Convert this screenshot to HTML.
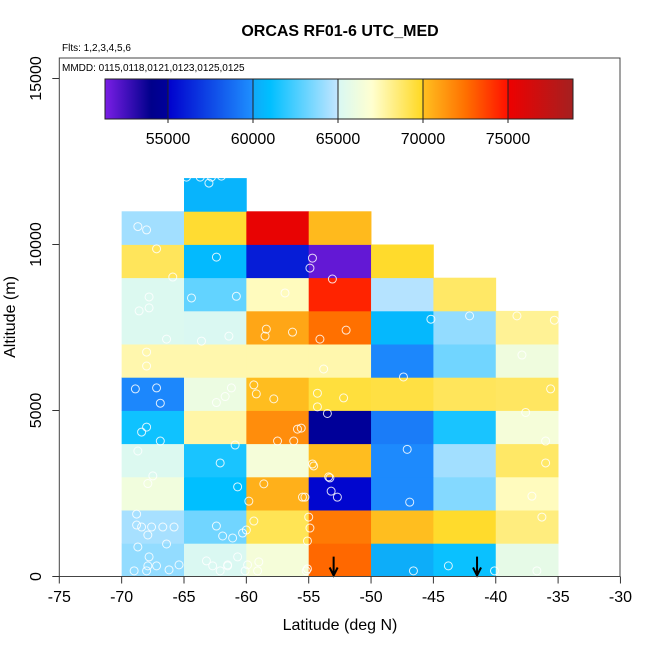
<!DOCTYPE html>
<html><head><meta charset="utf-8"><style>
body{margin:0;background:#fff;}
svg{display:block;font-family:"Liberation Sans",Arial,sans-serif;}
</style></head><body>
<svg id="chart" width="650" height="650" viewBox="0 0 650 650">
<text x="340" y="36" text-anchor="middle" font-size="16" font-weight="bold">ORCAS RF01-6 UTC_MED</text>
<text x="62" y="51" font-size="10">Flts: 1,2,3,4,5,6</text>
<g id="cells"></g>
<g id="pts"></g>
<g id="arrows"></g>
<rect x="59.3" y="58" width="560.7" height="518.5" fill="none" stroke="#444" stroke-width="1"/>
<text x="62" y="71" font-size="10">MMDD: 0115,0118,0121,0123,0125,0125</text>
<defs><linearGradient id="cbg" x1="0" x2="1" y1="0" y2="0"></linearGradient></defs>
<rect x="105" y="79" width="468" height="40" fill="url(#cbg)" stroke="#222" stroke-width="1"/>
<g id="cbticks"></g>
<g id="xaxis"></g>
<g id="yaxis"></g>
<text x="340" y="630" text-anchor="middle" font-size="16">Latitude (deg N)</text>
<text transform="translate(15,317) rotate(-90)" text-anchor="middle" font-size="16">Altitude (m)</text>
</svg>
<script>
const latBins=[-70,-65,-60,-55,-50,-45,-40];
const altBins=[0,1000,2000,3000,4000,5000,6000,7000,8000,9000,10000,11000];
// values[row altBin][col latBin], null = no data
const values=[
[64000,65100,66500,72700,60200,61200,65700],
[64400,63300,69100,72200,70050,69800,68400],
[66300,61000,70500,55200,59800,63700,67300],
[65200,61500,66500,70100,59800,64300,68800],
[61300,67700,71600,54900,59300,61500,66500],
[59700,66000,70100,69500,69400,69000,68900],
[67600,67600,67600,67600,59700,63300,66200],
[65200,65100,70800,72500,60700,64000,68000],
[65200,63000,67300,74500,64700,68800,null],
[69000,60800,56000,51800,69800,null,null],
[64300,69700,75300,70200,null,null,null],
[null,60500,null,null,null,null,null]
];
const cbTicks=[55000,60000,65000,70000,75000];
const xTicks=[-75,-70,-65,-60,-55,-50,-45,-40,-35,-30];
const yTicks=[0,5000,10000,15000];
const ptLat=[-64.8,-63.7,-62.8,-62.0,-63.0,-68.7,-68.0,-67.2,-62.4,-54.7,-54.9,-53.1,-65.9,-67.8,-64.4,-67.8,-68.6,-60.8,-56.9,-66.4,-63.6,-61.4,-58.4,-58.5,-56.3,-54.1,-52.0,-45.2,-42.1,-38.3,-68.0,-68.0,-53.8,-47.4,-68.9,-67.2,-66.9,-62.4,-61.7,-61.2,-59.4,-59.2,-57.8,-54.3,-54.3,-52.2,-53.5,-35.6,-37.6,-68.0,-68.4,-66.9,-55.9,-55.6,-57.5,-56.2,-60.9,-47.1,-68.7,-62.1,-54.7,-54.6,-67.5,-67.9,-60.7,-58.6,-53.4,-53.3,-53.2,-59.8,-55.5,-55.3,-52.7,-46.9,-36.0,-36.0,-36.3,-37.1,-37.9,-35.3,-46.6,-43.8,-40.1,-36.7,-68.8,-68.8,-68.4,-67.6,-66.7,-65.8,-67.9,-62.4,-61.9,-61.1,-60.3,-60.0,-59.4,-55.0,-54.9,-55.1,-68.7,-66.4,-67.8,-67.9,-67.2,-69.0,-68.0,-66.2,-65.4,-63.2,-62.7,-62.1,-61.5,-61.5,-60.7,-59.9,-60.1,-59.0,-59.1,-55.2,-55.1];
const ptAlt=[12030,12030,12030,12060,11850,10540,10440,9870,9620,9590,9290,8960,9020,8420,8390,8090,8000,8440,8540,7150,7090,7240,7450,7240,7360,7150,7420,7750,7850,7850,6760,6340,6250,6010,5650,5680,5220,5240,5420,5680,5770,5500,5350,5520,5110,5380,4910,5650,4940,4500,4350,4080,4440,4470,4080,4080,3960,3830,3780,3420,3390,3330,3030,2800,2700,2790,3000,2970,2570,2270,2390,2390,2390,2240,4080,3420,1790,2420,6670,7720,170,320,170,170,1880,1550,1490,1490,1490,1490,1250,1520,1220,1160,1310,1400,1670,1790,1460,1070,890,980,590,320,320,170,170,200,350,470,320,170,350,320,590,350,170,440,170,170,230];
const arrowLat=[-53.0,-41.5];

const X0=59.3,PX=12.47,Y0=576.5,PY=0.03320;
const xs=v=>X0+(v+75)*PX, ys=v=>Y0-v*PY;
const CB0=51294,CB1=78824,cbx=v=>105+(v-CB0)/(CB1-CB0)*468;
const stops=[[51294,'#7a1ee6'],[54000,'#00008b'],[55000,'#00009b'],[55000,'#0000cd'],[60000,'#1e90ff'],[60000,'#10a8f8'],[61000,'#00bfff'],[65000,'#c4e6ff'],[65000,'#d8f8f4'],[67000,'#ffffd0'],[70000,'#ffd820'],[70000,'#ffc020'],[72500,'#ff7000'],[75000,'#ff1000'],[75000,'#ee0000'],[78824,'#a52020']];
const h2r=h=>[1,3,5].map(i=>parseInt(h.substr(i,2),16));
function col(v){
  for(let i=0;i<stops.length-1;i++){
    const [a,ca]=stops[i],[b,cb]=stops[i+1];
    if(v>=a&&v<=b&&b>a){const t=(v-a)/(b-a),A=h2r(ca),B=h2r(cb);
      return 'rgb('+A.map((x,k)=>Math.round(x+(B[k]-x)*t)).join(',')+')';}
  }
  return v<CB0?stops[0][1]:stops[stops.length-1][1];
}
const NS='http://www.w3.org/2000/svg';
function mk(tag,at,parent){const e=document.createElementNS(NS,tag);for(const k in at)e.setAttribute(k,at[k]);parent.appendChild(e);return e;}
const g=document.getElementById('cbg');
stops.forEach(s=>{mk('stop',{offset:((s[0]-CB0)/(CB1-CB0)).toFixed(4),'stop-color':s[1]},g);});
const cells=document.getElementById('cells');
values.forEach((row,r)=>row.forEach((v,c)=>{
  if(v===null)return;
  const x1=xs(latBins[c]),x2=xs(latBins[c]+5),y1=ys(altBins[r]+1000),y2=ys(altBins[r]);
  const e=mk('rect',{x:x1,y:y1,width:x2-x1+0.4,height:y2-y1+0.4,fill:col(v)},cells);
  
  
}));
const pts=document.getElementById('pts');
ptLat.forEach((la,i)=>{
  const e=mk('circle',{cx:xs(la),cy:ys(ptAlt[i]),r:4,fill:'none',stroke:'rgba(255,255,255,0.85)','stroke-width':1},pts);
  
  
});
const ar=document.getElementById('arrows');
arrowLat.forEach(la=>{
  const x=xs(la);
  const e=mk('path',{d:`M${x},${ys(600)}V${Y0-1}M${x-4},${Y0-9}L${x},${Y0-1}L${x+4},${Y0-9}`,stroke:'#000','stroke-width':2,fill:'none'},ar);
  
  
});
const cbt=document.getElementById('cbticks');
cbTicks.forEach(v=>{
  const x=cbx(v);
  mk('line',{x1:x,x2:x,y1:79,y2:123,stroke:'#222','stroke-width':1},cbt);
  const t=mk('text',{x:x,y:144,'text-anchor':'middle','font-size':16},cbt);t.textContent=v;
  
  
});
const xa=document.getElementById('xaxis');
xTicks.forEach(v=>{
  const x=xs(v);
  mk('line',{x1:x,x2:x,y1:Y0,y2:Y0+7,stroke:'#333'},xa);
  const t=mk('text',{x:x,y:602,'text-anchor':'middle','font-size':16},xa);t.textContent=v;
  
  
});
const ya=document.getElementById('yaxis');
yTicks.forEach(v=>{
  const y=ys(v);
  mk('line',{x1:X0-7,x2:X0,y1:y,y2:y,stroke:'#333'},ya);
  const t=mk('text',{transform:`translate(41,${y}) rotate(-90)`,'text-anchor':'middle','font-size':16},ya);t.textContent=v;
  
  
});
</script>
</body></html>
